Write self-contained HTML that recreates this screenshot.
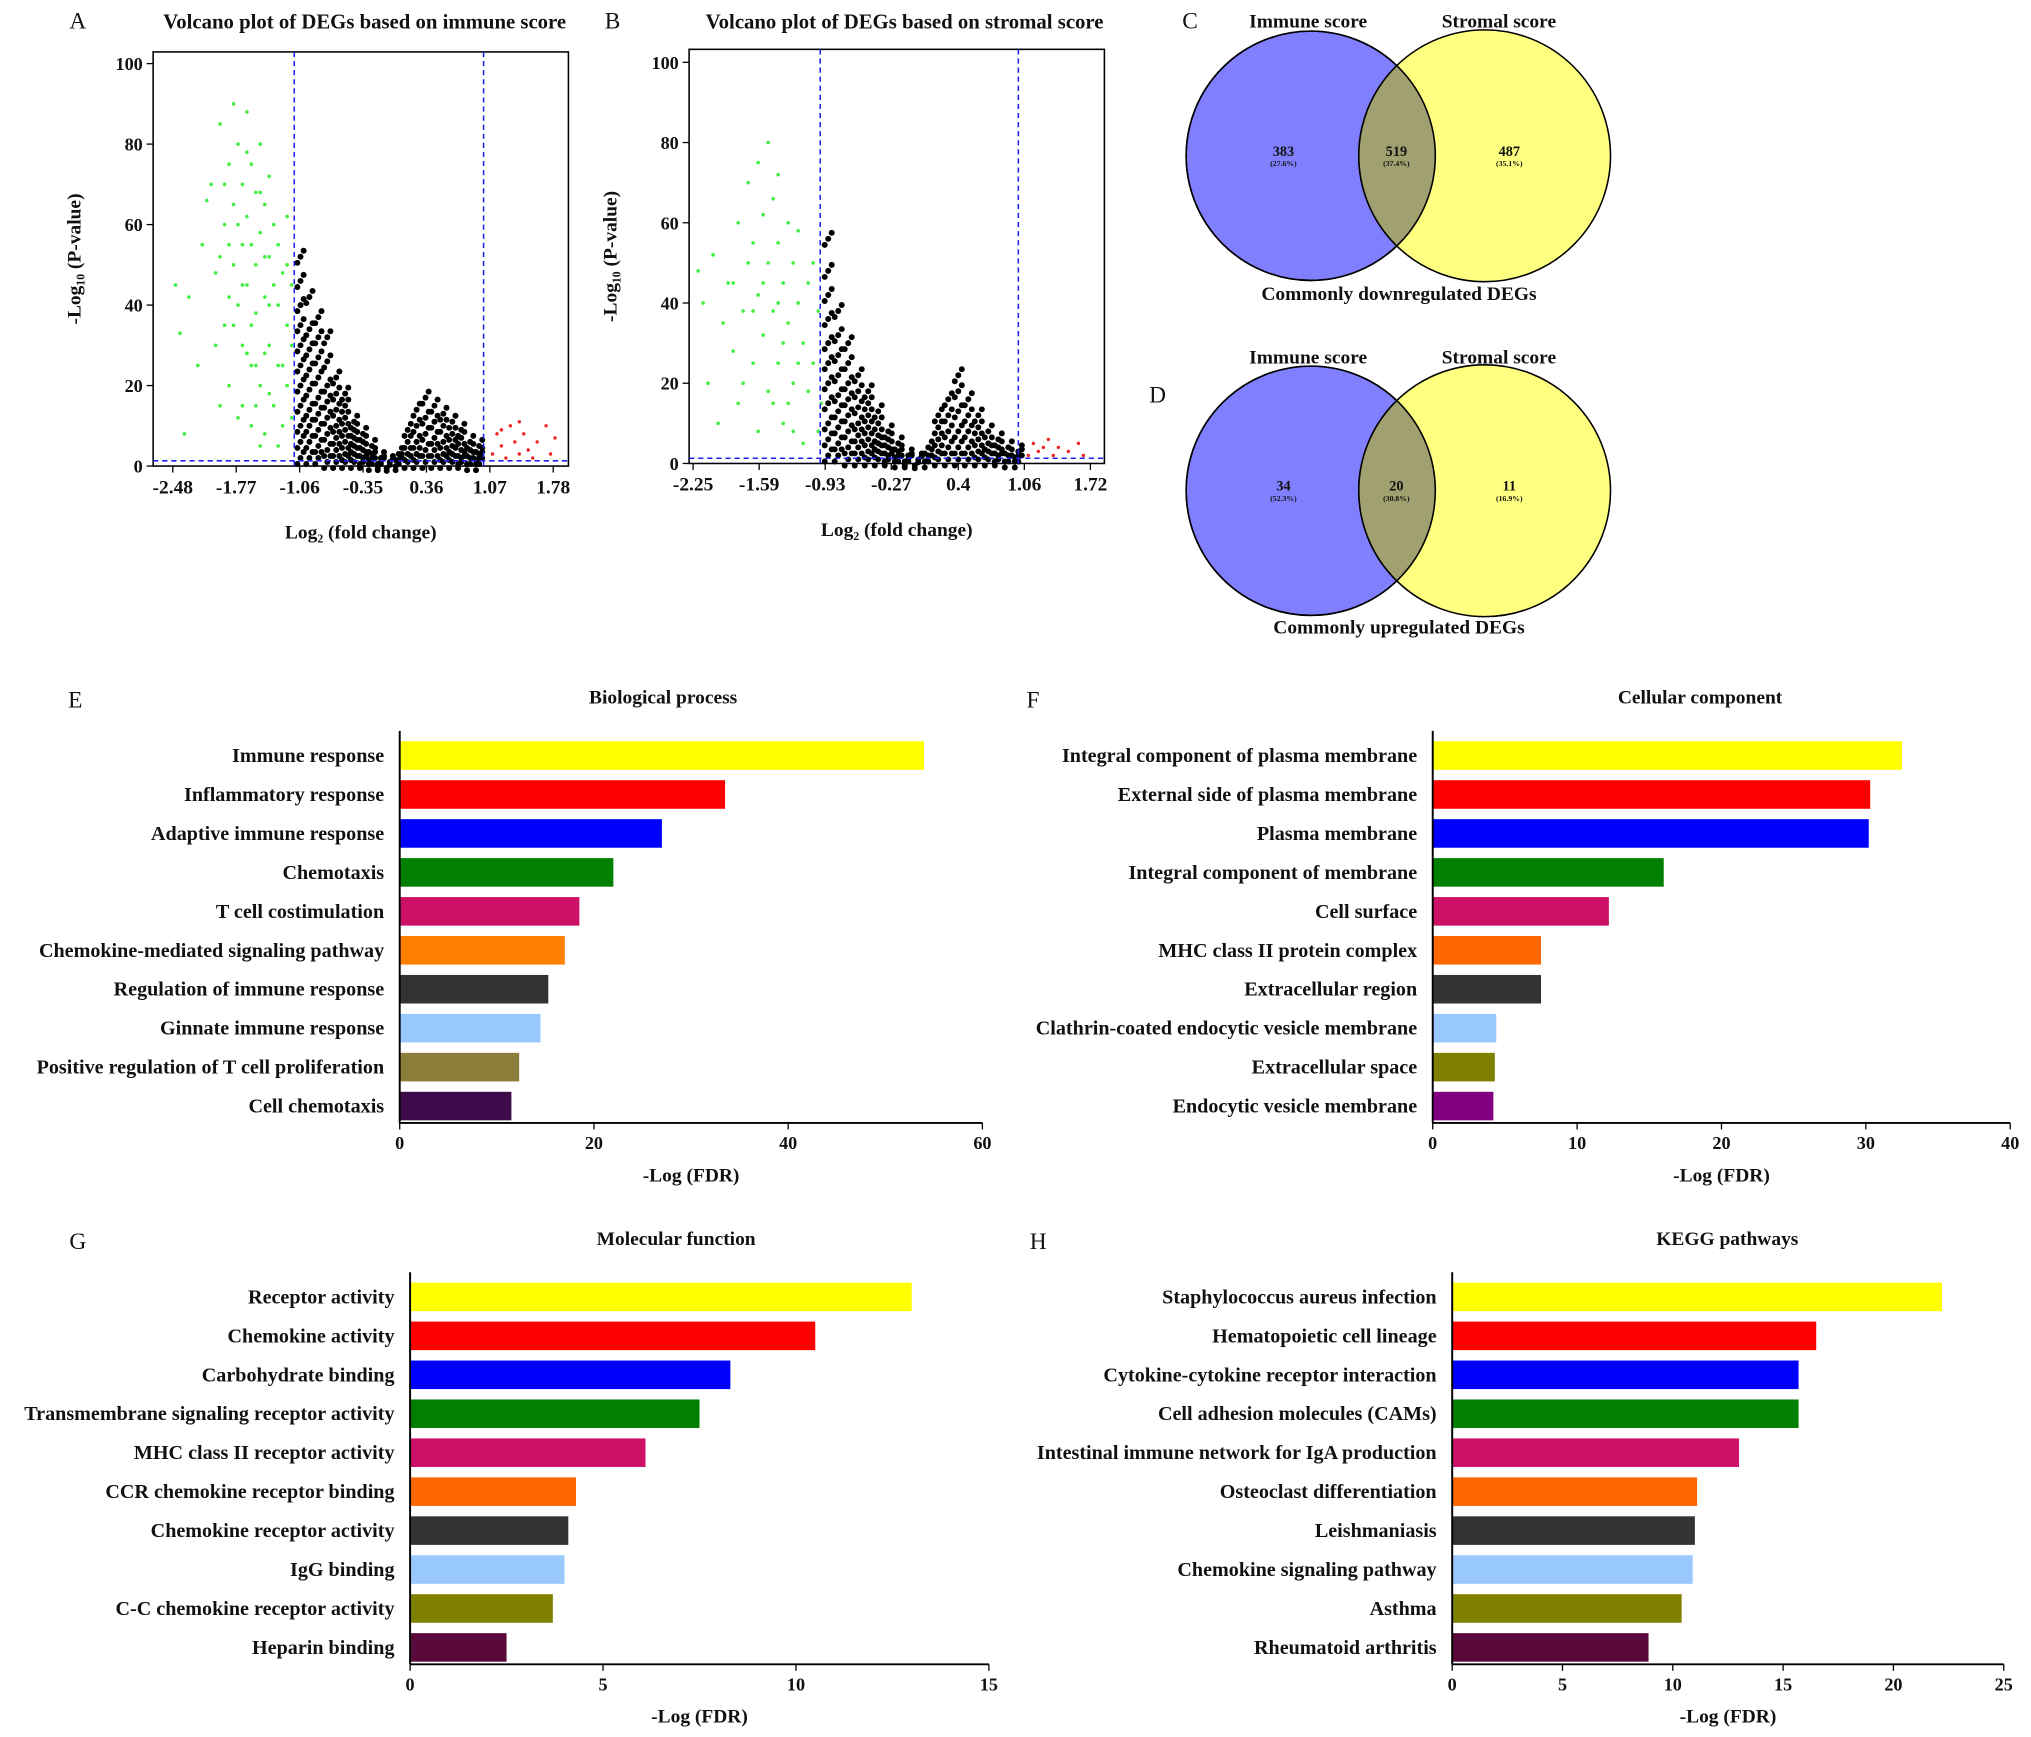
<!DOCTYPE html>
<html><head><meta charset="utf-8"><style>
html,body{margin:0;padding:0;background:#fff;}
svg{display:block;font-family:"Liberation Serif",serif;font-weight:bold;}
</style></head><body>
<svg id="fig" width="2031" height="1737" viewBox="0 0 1565 1338" preserveAspectRatio="none" xmlns="http://www.w3.org/2000/svg"></svg>
<script>
// ===== Volcano A data =====
const aTicks=[-2.48,-1.77,-1.06,-0.35,0.36,1.07,1.78];
const aYTicks=[0,20,40,60,80,100];
const aGreen=[[-2.45,45],[-2.4,33],[-2.35,8],[-2.3,42],[-2.2,25],[-2.15,55],[-2.1,66],[-2.05,70],[-2.0,48],[-1.95,85],[-1.9,60],[-1.9,35],[-1.85,75],[-1.85,20],[-1.8,90],[-1.8,65],[-1.8,50],[-1.75,80],[-1.75,40],[-1.75,12],[-1.7,70],[-1.7,55],[-1.7,30],[-1.65,88],[-1.65,62],[-1.65,45],[-1.6,75],[-1.6,25],[-1.6,10],[-1.55,68],[-1.55,50],[-1.55,38],[-1.5,80],[-1.5,58],[-1.5,20],[-1.45,65],[-1.45,42],[-1.45,8],[-1.4,72],[-1.4,52],[-1.4,30],[-1.35,60],[-1.35,15],[-1.3,55],[-1.3,40],[-1.3,5],[-1.25,48],[-1.25,25],[-1.2,62],[-1.2,35],[-1.15,45],[-1.15,12],[-2.0,30],[-1.95,15],[-1.85,55],[-1.7,15],[-1.6,35],[-1.5,5],[-1.4,18],[-1.9,70],[-1.75,60],[-1.65,28],[-1.55,15],[-1.45,28],[-1.35,45],[-1.25,10],[-1.2,50],[-1.8,35],[-1.7,45],[-1.6,55],[-1.5,68],[-1.4,40],[-1.3,25],[-1.2,20],[-1.15,30],[-1.85,42],[-1.95,52],[-1.65,78],[-1.55,25],[-1.45,52]];
const aBlackX=[-1.05,-0.95,-0.85,-0.75,-0.65,-0.55,-0.45,-0.35,-0.25,-0.15,-0.05,0.05,0.15,0.25,0.35,0.45,0.55,0.65,0.75,0.85,0.95];
const aBlackY=[[2,6,10,15,20,25,30,35,40,46,52],[2,6,10,14,19,24,29,34,42],[2,5,9,13,17,22,27,32,37],[1,4,8,12,16,20,26,32],[1,4,7,10,14,18,22],[1,3,6,9,12,15,18],[1,3,5,7,9,11],[1,2,4,6,8],[0.5,2,3,5],[0.5,1,2],[0.3,1],[0.5,1.5,3],[1,3,6,9],[1,3,6,10,14],[1,4,8,12,17],[1,4,7,11,15],[1,3,6,10,13],[1,3,5,8,11],[1,2,4,7,9],[0.5,2,4,6],[0.5,2,3,5]];
const aRed=[[1.1,3],[1.15,8],[1.2,5],[1.25,2],[1.3,10],[1.35,6],[1.4,3],[1.45,8],[1.5,4],[1.55,2],[1.6,6],[1.7,10],[1.75,3],[1.8,7],[1.2,9],[1.4,11]];
// ===== Volcano B data =====
const bTicks=[-2.25,-1.59,-0.93,-0.27,0.4,1.06,1.72];
const bYTicks=[0,20,40,60,80,100];
const bGreen=[[-2.2,48],[-2.15,40],[-2.1,20],[-2.05,52],[-2.0,10],[-1.95,35],[-1.9,45],[-1.85,28],[-1.8,60],[-1.8,15],[-1.75,38],[-1.7,70],[-1.7,50],[-1.65,25],[-1.6,75],[-1.6,42],[-1.6,8],[-1.55,62],[-1.55,32],[-1.5,80],[-1.5,50],[-1.5,18],[-1.45,66],[-1.45,38],[-1.4,72],[-1.4,55],[-1.4,25],[-1.35,45],[-1.35,10],[-1.3,60],[-1.3,35],[-1.25,50],[-1.25,20],[-1.2,58],[-1.2,40],[-1.15,30],[-1.15,5],[-1.1,45],[-1.05,25],[-1.0,38],[-0.97,15],[-1.65,55],[-1.75,20],[-1.85,45],[-1.45,15],[-1.35,30],[-1.25,8],[-1.1,18],[-1.55,45],[-1.65,38],[-1.4,40],[-1.3,15],[-1.2,25],[-1.05,50],[-1.0,8]];
const bBlackX=[-0.9,-0.8,-0.7,-0.6,-0.5,-0.4,-0.3,-0.2,-0.1,0.0,0.1,0.2,0.3,0.4,0.5,0.6,0.7,0.8,0.9,1.0];
const bBlackY=[[2,6,10,15,20,25,30,36,42,48,56],[2,5,9,13,17,22,27,32,38],[1,4,8,12,16,20,25,30],[1,4,7,10,14,18,22],[1,3,6,9,12,15,18],[1,3,5,7,10,13],[1,2,4,6,8],[0.5,2,3,5],[0.5,1,2],[0.3,1],[0.5,2,4],[1,3,6,9,12],[1,4,8,12,16],[1,4,8,13,18,22],[1,4,8,12,16],[1,3,6,9,12],[1,3,5,8],[1,2,4,6],[0.5,2,4],[0.5,2,3]];
const bRed=[[1.1,2],[1.15,5],[1.2,3],[1.3,6],[1.35,2],[1.4,4],[1.5,3],[1.6,5],[1.65,2],[1.25,4]];
// ===== Bar charts =====
const eCats=["Immune response","Inflammatory response","Adaptive immune response","Chemotaxis","T cell costimulation","Chemokine-mediated signaling pathway","Regulation of immune response","Ginnate immune response","Positive regulation of T cell proliferation","Cell chemotaxis"];
const eVals=[54,33.5,27,22,18.5,17,15.3,14.5,12.3,11.5];
const eTicks=[0,20,40,60];
const fCats=["Integral component of plasma membrane","External side of plasma membrane","Plasma membrane","Integral component of membrane","Cell surface","MHC class II protein complex","Extracellular region","Clathrin-coated endocytic vesicle membrane","Extracellular space","Endocytic vesicle membrane"];
const fVals=[32.5,30.3,30.2,16,12.2,7.5,7.5,4.4,4.3,4.2];
const fTicks=[0,10,20,30,40];
const gCats=["Receptor activity","Chemokine activity","Carbohydrate binding","Transmembrane signaling receptor activity","MHC class II receptor activity","CCR chemokine receptor binding","Chemokine receptor activity","IgG binding","C-C chemokine receptor activity","Heparin binding"];
const gVals=[13,10.5,8.3,7.5,6.1,4.3,4.1,4.0,3.7,2.5];
const gTicks=[0,5,10,15];
const hCats=["Staphylococcus aureus infection","Hematopoietic cell lineage","Cytokine-cytokine receptor interaction","Cell adhesion molecules (CAMs)","Intestinal immune network for IgA production","Osteoclast differentiation","Leishmaniasis","Chemokine signaling pathway","Asthma","Rheumatoid arthritis"];
const hVals=[22.2,16.5,15.7,15.7,13,11.1,11,10.9,10.4,8.9];
const hTicks=[0,5,10,15,20,25];

const NS="http://www.w3.org/2000/svg";
const svg=document.getElementById('fig');
function el(tag,attrs,parent){const e=document.createElementNS(NS,tag);for(const k in attrs)e.setAttribute(k,attrs[k]);(parent||svg).appendChild(e);return e;}
function txt(s,x,y,size,anchor,parent,extra){const t=el('text',Object.assign({x:x,y:y,'font-size':size,'text-anchor':anchor||'middle',fill:'#111'},extra||{}),parent);t.textContent=s;return t;}

function volcano(name,box,xd,ticks,yticks,thr,green,bx,by,red,title,tx){
  const g=el('g',{});
  
  
  const X=v=>box.x0+(v-xd[0])/(xd[1]-xd[0])*(box.x1-box.x0);
  const Y=v=>box.y0-v/100*(box.y0-box.ytop);
  el('rect',{x:box.x0,y:box.ytop0,width:box.x1-box.x0,height:box.y0-box.ytop0,fill:'none',stroke:'#000','stroke-width':1.2},g);
  const draw=(pts,c,r)=>pts.forEach(p=>{const d=el('circle',{cx:X(p[0]),cy:Y(p[1]),r:r,fill:c},g);});
  draw(green,'#44ee44',1.4);
  bx.forEach((x,i)=>by[i].forEach(y=>{[-0.035,0,0.035].forEach((dx,j)=>{const d=el('circle',{cx:X(x+dx),cy:Y(y+(j-1)*1.5),r:2.3,fill:'#000'},g);});}));
  draw(red,'#ee2222',1.3);
  [thr[0],thr[1]].forEach(v=>el('line',{x1:X(v),x2:X(v),y1:box.ytop0,y2:box.y0,stroke:'#2222ee','stroke-dasharray':'4,3','stroke-width':1.2},g));
  el('line',{x1:box.x0,x2:box.x1,y1:Y(1.3),y2:Y(1.3),stroke:'#2222ee','stroke-dasharray':'4,3','stroke-width':1.2},g);
  ticks.forEach(t=>{el('line',{x1:X(t),x2:X(t),y1:box.y0,y2:box.y0+5,stroke:'#000'},g);const l=txt(String(t),X(t),box.y0+21,15,'middle',g);});
  yticks.forEach(t=>{el('line',{x1:box.x0-5,x2:box.x0,y1:Y(t),y2:Y(t),stroke:'#000'},g);const l=txt(String(t),box.x0-8,Y(t)+5,14,'end',g);});
  const xt=txt('Log₂ (fold change)',(box.x0+box.x1)/2,box.y0+56,15,'middle',g);
  const yt=txt('-Log₁₀ (P-value)',0,0,15,'middle',g,{transform:`translate(${box.x0-56},${(box.y0+box.ytop0)/2}) rotate(-90)`});
  const tt=txt(title,tx,22,16,'middle',g);
}
volcano('volcano-immune',{x0:118,x1:438,y0:359,ytop:49,ytop0:40},[-2.7,1.95],aTicks,aYTicks,[-1.12,1.0],aGreen,aBlackX,aBlackY,aRed,'Volcano plot of DEGs based on immune score',281);
volcano('volcano-stromal',{x0:531,x1:851,y0:357,ytop:48,ytop0:38},[-2.29,1.86],bTicks,bYTicks,[-0.98,1.0],bGreen,bBlackX,bBlackY,bRed,'Volcano plot of DEGs based on stromal score',697);

function venn(name,cy,ly,by,nums,pcts,bottom){
  const g=el('g',{});
  
  
  el('circle',{cx:1010,cy:cy,r:96,fill:'#8080ff',stroke:'#000','stroke-width':1.2},g);
  el('circle',{cx:1144,cy:cy,r:97,fill:'#ffff80',stroke:'#000','stroke-width':1.2},g);
  const cp=el('clipPath',{id:name+'-clip'},g);el('circle',{cx:1010,cy:cy,r:96},cp);
  el('circle',{cx:1144,cy:cy,r:97,fill:'#a0a070',stroke:'#000','stroke-width':1.2,'clip-path':`url(#${name}-clip)`},g);
  el('circle',{cx:1010,cy:cy,r:96,fill:'none',stroke:'#000','stroke-width':1.2},g);
  const xs=[989,1076,1163];
  xs.forEach((x,i)=>{const n=txt(String(nums[i]),x,cy,11,'middle',g);txt(pcts[i],x,cy+8,6,'middle',g);});
  txt('Immune score',1008,ly,15,'middle',g);txt('Stromal score',1155,ly,15,'middle',g);
  txt(bottom,1078,by,15,'middle',g);
}
venn('venn-downregulated',120,21,231,[383,519,487],['(27.6%)','(37.4%)','(35.1%)'],'Commonly downregulated DEGs');
venn('venn-upregulated',378,280,488,[34,20,11],['(52.3%)','(30.8%)','(16.9%)'],'Commonly upregulated DEGs');

const colE=['#ffff00','#ff0000','#0000ff','#007f00','#cc1166','#ff8000','#333333','#99c8ff','#8b7d3a','#3d0a4a'];
const colF=['#ffff00','#ff0000','#0000ff','#007f00','#cc1166','#ff6600','#333333','#99c8ff','#808000','#800080'];
const colG=['#ffff00','#ff0000','#0000ff','#007f00','#cc1166','#ff6600','#333333','#99c8ff','#808000','#5a0a3a'];
function bars(name,x0,x1,max,ticks,cats,vals,cols,top,title,tx){
  const g=el('g',{});
  
  
  const X=v=>x0+v/max*(x1-x0);
  const axY=top+298;
  cats.forEach((c,i)=>{const cy=top+15+i*30;
    const r=el('rect',{x:x0,y:cy-11,width:X(vals[i])-x0,height:22,fill:cols[i]},g);
    
    
    const l=txt(c,x0-12,cy+5,15.5,'end',g);});
  el('line',{x1:x0,x2:x0,y1:top-4,y2:axY,stroke:'#000','stroke-width':1.5},g);
  el('line',{x1:x0,x2:x1,y1:axY,y2:axY,stroke:'#000','stroke-width':1.5},g);
  ticks.forEach(t=>{el('line',{x1:X(t),x2:X(t),y1:axY,y2:axY+5,stroke:'#000'},g);const l=txt(String(t),X(t),axY+20,14,'middle',g);});
  const xt=txt('-Log (FDR)',(x0+x1)/2,axY+45,15,'middle',g);
  const tt=txt(title,tx,top-25,15,'middle',g);
}
bars('bar-chart-biological-process',308,757,60,eTicks,eCats,eVals,colE,567,'Biological process',511);
bars('bar-chart-cellular-component',1104,1549,40,fTicks,fCats,fVals,colF,567,'Cellular component',1310);
bars('bar-chart-molecular-function',316,762,15,gTicks,gCats,gVals,colG,984,'Molecular function',521);
bars('bar-chart-kegg-pathways',1119,1544,25,hTicks,hCats,hVals,colG,984,'KEGG pathways',1331);

[['A',60,22],['B',472,22],['C',917,22],['D',892,310],['E',58,545],['F',796,545],['G',60,962],['H',800,962]].forEach(p=>{const l=txt(p[0],p[1],p[2],18,'middle',svg,{'font-weight':'normal'});});
</script>
</body></html>
